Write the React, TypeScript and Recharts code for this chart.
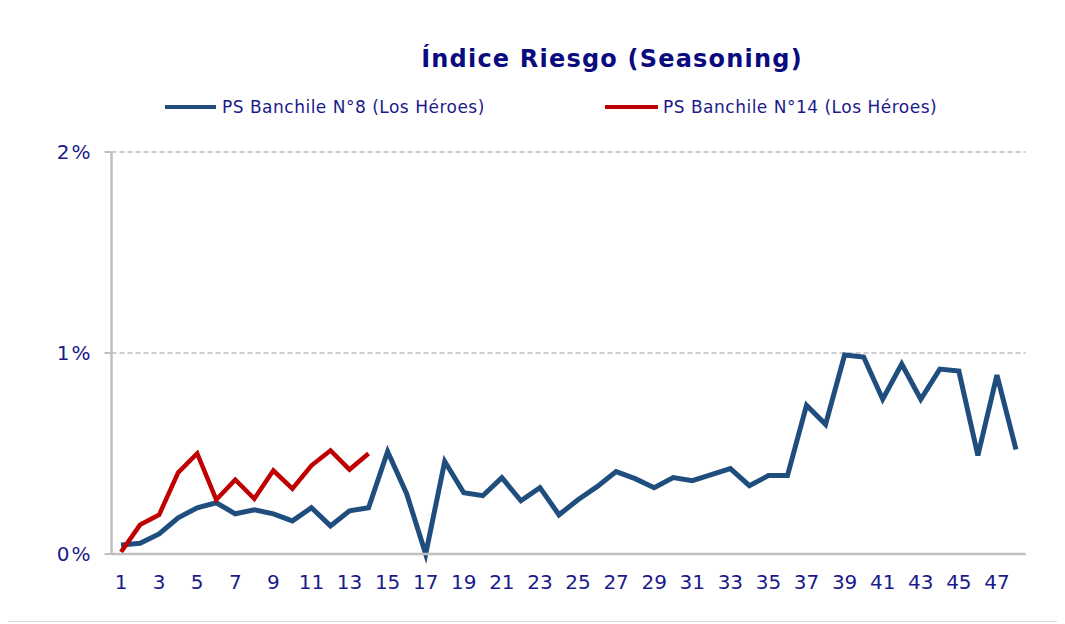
import { LineChart, Line, XAxis, YAxis, CartesianGrid } from 'recharts';

const months = Array.from({ length: 48 }, (_, i) => i + 1);

const banchile8 = [
    0.045, 0.053, 0.10, 0.18, 0.23, 0.255, 0.20, 0.22, 0.20, 0.165,
    0.23, 0.14, 0.215, 0.23, 0.51, 0.30, 0.0, 0.46, 0.305, 0.29,
    0.38, 0.265, 0.33, 0.195, 0.27, 0.335, 0.41, 0.375, 0.33, 0.38,
    0.365, 0.395, 0.425, 0.34, 0.39, 0.39, 0.74, 0.645, 0.99, 0.98,
    0.77, 0.945, 0.77, 0.92, 0.91, 0.49, 0.89, 0.52,
];

const banchile14 = [
    0.01, 0.145, 0.195, 0.405, 0.50, 0.27, 0.37, 0.275, 0.415, 0.325,
    0.44, 0.515, 0.42, 0.50,
];

const xLabels = months.filter((m) => m % 2 === 1);
const xTickMarks = [0, ...months].map((m) => m + 0.5);
const yTicks = [0, 1, 2];

const seriesNames = ['PS Banchile N°8 (Los Héroes)', 'PS Banchile N°14 (Los Héroes)'];
const seriesColors = ['#1F4E7E', '#C00000'];

const data = months.map((m, i) => ({
    month: m,
    s8: banchile8[i],
    s14: i < banchile14.length ? banchile14[i] : null,
}));

const labelColor = '#1A1A8A';
const axisColor = '#BFBFBF';

const legendText = { marginLeft: 6, fontFamily: 'DejaVu Sans', fontSize: 17, letterSpacing: 0.5, color: labelColor };

const App = () => {
    return (
        <div style={{ position: 'relative', width: 1049, height: 613, borderBottom: '1px solid #D9D9D9', fontFamily: 'DejaVu Sans' }}>
            <div style={{
                position: 'absolute', top: 37, left: 0, width: 1208, textAlign: 'center',
                fontSize: 24, fontWeight: 'bold', color: '#0B0B80', letterSpacing: 1.2,
            }}>
                Índice Riesgo (Seasoning)
            </div>

            <div style={{ position: 'absolute', top: 89, left: 157, display: 'flex', alignItems: 'center' }}>
                <span style={{ width: 51, height: 4, background: seriesColors[0], display: 'inline-block' }} />
                <span style={legendText}>{seriesNames[0]}</span>
            </div>
            <div style={{ position: 'absolute', top: 89, left: 597, display: 'flex', alignItems: 'center' }}>
                <span style={{ width: 53, height: 4, background: seriesColors[1], display: 'inline-block' }} />
                <span style={{ ...legendText, marginLeft: 5 }}>{seriesNames[1]}</span>
            </div>

            <LineChart
                width={1049}
                height={613}
                data={data}
                margin={{ top: 144, right: 31.5, left: 43.5, bottom: 27 }}
                style={{ position: 'absolute', top: 0, left: 0 }}
            >
                <CartesianGrid
                    vertical={false}
                    stroke={axisColor}
                    strokeDasharray='5 3'
                    strokeWidth={1.5}
                />

                <XAxis
                    xAxisId='marks'
                    dataKey='month'
                    type='number'
                    domain={[0.5, 48.5]}
                    ticks={xTickMarks}
                    interval={0}
                    height={0}
                    axisLine={false}
                    tickLine={{ stroke: axisColor, strokeWidth: 2 }}
                    tickSize={8}
                    tickFormatter={() => ''}
                />

                <XAxis
                    dataKey='month'
                    type='number'
                    domain={[0.5, 48.5]}
                    ticks={xLabels}
                    interval={0}
                    height={40}
                    axisLine={{ stroke: axisColor, strokeWidth: 2.5 }}
                    tickLine={false}
                    tickSize={0}
                    tickMargin={21}
                    tick={{ fontSize: 20, fill: labelColor, fontFamily: 'DejaVu Sans' }}
                />

                <YAxis
                    width={60}
                    domain={[0, 2]}
                    ticks={yTicks}
                    interval={0}
                    axisLine={{ stroke: axisColor, strokeWidth: 2.5 }}
                    tickLine={{ stroke: axisColor, strokeWidth: 2 }}
                    tickSize={7}
                    tickMargin={12}
                    tickFormatter={(v: number) => `${v}%`}
                    tick={{ fontSize: 20, fill: labelColor, fontFamily: 'DejaVu Sans', letterSpacing: 2 }}
                />

                <Line
                    xAxisId='marks'
                    dataKey='s8'
                    stroke={seriesColors[0]}
                    strokeWidth={5}
                    dot={false}
                    isAnimationActive={false}
                />
                <Line
                    xAxisId='marks'
                    dataKey='s14'
                    stroke={seriesColors[1]}
                    strokeWidth={4.5}
                    dot={false}
                    isAnimationActive={false}
                />
            </LineChart>
        </div>
    );
};

export default App;
